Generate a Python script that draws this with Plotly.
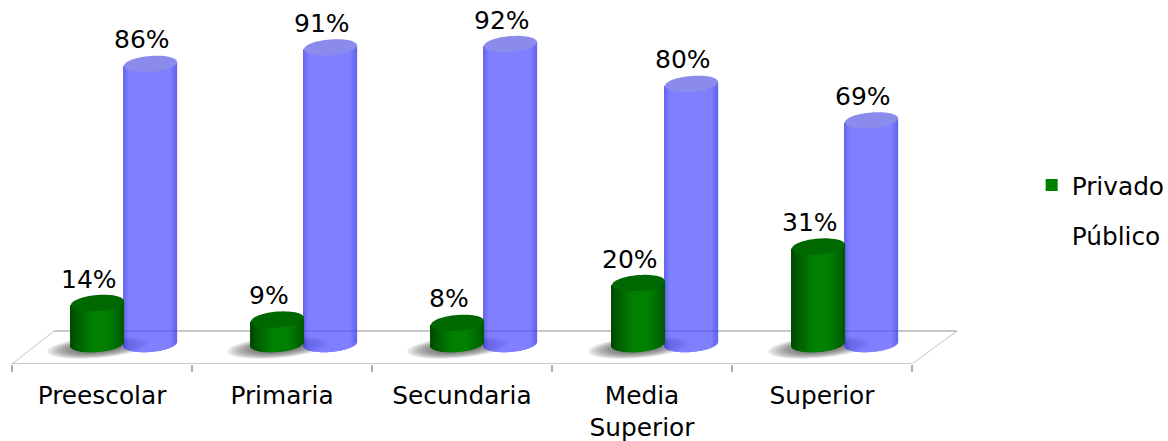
import numpy as np
import plotly.graph_objects as go

categories = ["Preescolar", "Primaria", "Secundaria", "Media<br>Superior", "Superior"]
privado = [14, 9, 8, 20, 31]
publico = [86, 91, 92, 80, 69]
labels_privado = ["14%", "9%", "8%", "20%", "31%"]
labels_publico = ["86%", "91%", "92%", "80%", "69%"]

FONT = "DejaVu Sans"
PX = 180.0          # pixels per x unit
PITCH = 180.25      # pixels between neighbouring cylinder groups
PY = 3.32           # pixels per percent
CYL_W = 53          # cylinder width in pixels
CAP = 8 / PY        # ellipse vertical semi-axis in data units
TILT = 2 / PY       # perspective rise of the ellipse at its right end
BASE = 1.65         # centre of the bottom ellipse in data units
OFF_G = 85.5 / PX   # centre of green cylinder within category
OFF_B = 138.5 / PX  # centre of blue cylinder within category

idx = np.arange(len(categories))
tpos = (np.arange(CYL_W) + 0.5) / CYL_W * 2 - 1
ang = np.linspace(0, 2 * np.pi, 61)[:-1]


def group_x(k):
    return round(k * PITCH) / PX


def ellipse_path(cx, cy, rx, ry, tilt):
    xs = cx + rx * np.cos(ang)
    ys = cy + ry * np.sin(ang) + tilt * np.cos(ang)
    pts = [f"{x:.5f},{y:.4f}" for x, y in zip(xs, ys)]
    return "M" + "L".join(pts) + "Z"


def cylinder(values, offset, colour_fn, name, opacity=1.0):
    xs, bases, heights, cols = [], [], [], []
    for k, v in zip(idx, values):
        for i, t in enumerate(tpos):
            arc = np.sqrt(max(0, 1 - t * t))
            b = BASE - CAP * arc + TILT * t
            xs.append(group_x(k) + offset - CYL_W / 2 / PX + (i + 0.5) / PX)
            bases.append(b)
            heights.append(v + TILT * t - b)
            cols.append(colour_fn(t))
    return go.Bar(x=xs, y=heights, base=bases, width=1.3 / PX, name=name, showlegend=False,
                  opacity=opacity, marker=dict(color=cols, line=dict(width=0)), hoverinfo="skip")


def green(t):
    a = abs(t - 0.12)
    s = 1.0 if a < 0.25 else 1.0 - 0.42 * min(1.0, (a - 0.25) / 0.85) ** 1.2
    return f"rgb(0,{int(128 * s)},0)"


def blue(t):
    a = abs(t)
    s = 1.0 if a < 0.78 else 1.0 - 0.42 * (a - 0.78) / 0.22
    return f"rgb({int(85 * s)},{int(85 * s)},{int(255 * (0.8 + 0.2 * s))})"


fig = go.Figure()
fig.add_trace(cylinder(publico, OFF_B, blue, "Público cuerpo", 0.75))
fig.add_trace(cylinder(privado, OFF_G, green, "Privado cuerpo"))

# legend entries
fig.add_trace(go.Scatter(x=[None], y=[None], mode="markers", name="Privado", legendgroup="a",
                         marker=dict(symbol="square", size=17, color="#008000")))
fig.add_trace(go.Scatter(x=[None], y=[None], mode="markers", name="Público", legendgroup="b",
                         marker=dict(symbol="square", size=17, color="rgba(255,255,255,0)")))

shapes = []
n = len(categories)
Y_FRONT, Y_BACK = -4.37, 5.57
SLANT_L, SLANT_R = 42 / PX, 45 / PX
line = dict(color="#c8c8c8", width=2)
thin = dict(color="#c4c4c4", width=1)
shapes += [
    dict(type="line", x0=0, x1=n, y0=Y_FRONT, y1=Y_FRONT, line=line, layer="below"),
    dict(type="line", x0=SLANT_L, x1=n + SLANT_R, y0=Y_BACK, y1=Y_BACK, line=line, layer="below"),
    dict(type="line", x0=0, x1=SLANT_L, y0=Y_FRONT, y1=Y_BACK, line=thin, layer="below"),
    dict(type="line", x0=n, x1=n + SLANT_R, y0=Y_FRONT, y1=Y_BACK, line=thin, layer="below"),
]
for k in idx:
    cx = group_x(k) + OFF_G
    for j in range(8):
        f = 1 - j * 0.075
        shapes.append(dict(type="path", layer="below", fillcolor="rgba(70,70,70,0.13)", line=dict(width=0),
                           path=ellipse_path(cx, 0.6, 50 * f / PX, 10.5 * f / PY, 4 * f / PY)))
hw = CYL_W / 2 / PX
for vals, off, col in ((publico, OFF_B, "#8b8bec"), (privado, OFF_G, "#006800")):
    for k, v in zip(idx, vals):
        shapes.append(dict(type="path", layer="above", fillcolor=col, line=dict(width=0),
                           path=ellipse_path(group_x(k) + off, v, hw, CAP, TILT)))

annotations = []
for vals, labs, off in ((privado, labels_privado, OFF_G), (publico, labels_publico, OFF_B)):
    for k, v, t in zip(idx, vals, labs):
        annotations.append(dict(x=group_x(k) + off, y=v, text=t, showarrow=False, xshift=-9, yshift=24,
                                font=dict(family=FONT, size=25, color="black")))

fig.update_layout(
    width=1168, height=441, autosize=False,
    margin=dict(l=12, r=1168 - 957, t=0, b=441 - 364, autoexpand=False),
    paper_bgcolor="white", plot_bgcolor="white",
    barmode="overlay", shapes=shapes, annotations=annotations,
    font=dict(family=FONT, size=24.8, color="black"),
    legend=dict(x=1.079, y=0.554, xanchor="left", yanchor="top", tracegroupgap=15,
                itemsizing="constant", font=dict(family=FONT, size=24.8),
                bgcolor="rgba(0,0,0,0)", itemwidth=30),
    xaxis=dict(range=[0, 5.25], showgrid=False, zeroline=False, showline=False,
               tickmode="array", tickvals=(idx + 0.5).tolist(), ticktext=categories,
               ticks="", ticklabelstandoff=14,
               tickfont=dict(family=FONT, size=24.8, color="black"),
               minor=dict(tickmode="array", tickvals=list(range(n + 1)), ticks="outside",
                          ticklen=7, tickwidth=2, tickcolor="#b0b0b0", showgrid=False)),
    yaxis=dict(range=[Y_FRONT, 105.27], visible=False),
)
fig.write_html("out.html", config=dict(displayModeBar=False),
               post_script="document.body.style.margin='0';")
